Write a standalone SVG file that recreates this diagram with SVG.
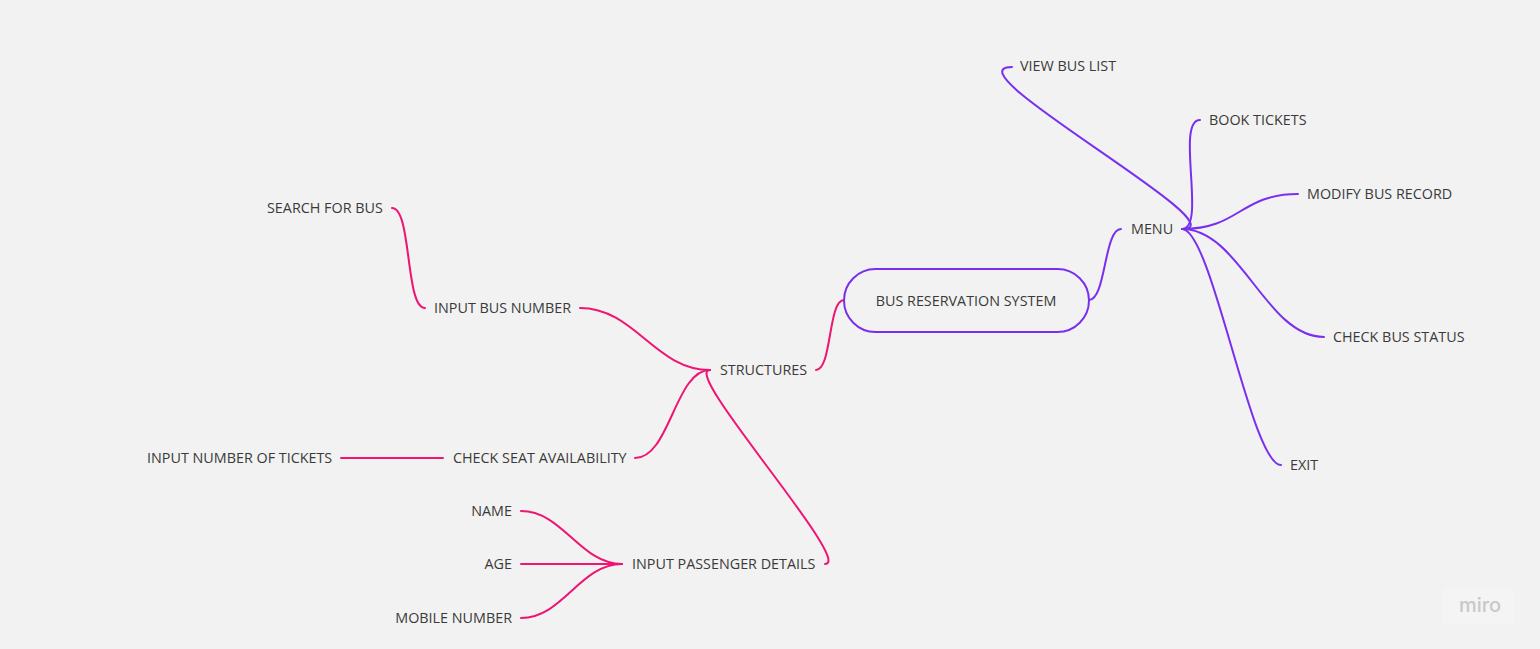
<svg xmlns="http://www.w3.org/2000/svg" width="1540" height="649" viewBox="0 0 1540 649">
<style>
.t{font-family:"Open Sans","Liberation Sans",sans-serif;font-size:14.35px;fill:#3a3a3a}
.r{text-anchor:end}
.p{fill:none;stroke:#7a2ff0;stroke-width:2;stroke-linecap:round}
.k{fill:none;stroke:#ee1573;stroke-width:2;stroke-linecap:round}
</style>
<rect width="1540" height="649" fill="#f2f2f2"/>
<g id="connectors">
<path class="p" d="M1089,300 C1106,300 1104,229 1121,229"/>
<path class="p" d="M1182,229 C1245,229 945,67 1012,67"/>
<path class="p" d="M1182,229 C1207,229 1175,120 1200,120"/>
<path class="p" d="M1182,229 C1240,229 1240,194 1298,194"/>
<path class="p" d="M1182,229 C1240,229 1266,337 1324,337"/>
<path class="p" d="M1182,229 C1212,229 1251,465 1281,465"/>
<path class="k" d="M844,300 C828,300 832,370 816,370"/>
<path class="k" d="M710,370 C655,370 635,308 580,308"/>
<path class="k" d="M425,308 C405,308 412,208 392,208"/>
<path class="k" d="M710,370 C675,370 670,458 635,458"/>
<path class="k" d="M341,458 L443,458"/>
<path class="k" d="M710,370 C680,370 855,564 825,564"/>
<path class="k" d="M622,564 C580,564 563,511 521,511"/>
<path class="k" d="M622,564 L521,564"/>
<path class="k" d="M622,564 C580,564 563,618 521,618"/>
</g>
<g id="root">
<rect x="844" y="269" width="245" height="63" rx="31.5" fill="none" stroke="#7a2ff0" stroke-width="2"/>
<text class="t" x="966" y="306" text-anchor="middle">BUS RESERVATION SYSTEM</text>
</g>
<g id="menu"><text class="t" x="1131" y="234">MENU</text></g>
<g id="view-bus-list"><text class="t" x="1020" y="71">VIEW BUS LIST</text></g>
<g id="book-tickets"><text class="t" x="1209" y="125">BOOK TICKETS</text></g>
<g id="modify-bus-record"><text class="t" x="1307" y="199">MODIFY BUS RECORD</text></g>
<g id="check-bus-status"><text class="t" x="1333" y="342">CHECK BUS STATUS</text></g>
<g id="exit"><text class="t" x="1290" y="470">EXIT</text></g>
<g id="structures"><text class="t" x="720" y="375">STRUCTURES</text></g>
<g id="input-bus-number"><text class="t" x="434" y="313">INPUT BUS NUMBER</text></g>
<g id="search-for-bus"><text class="t" x="267" y="213">SEARCH FOR BUS</text></g>
<g id="check-seat-availability"><text class="t" x="453" y="463">CHECK SEAT AVAILABILITY</text></g>
<g id="input-number-of-tickets"><text class="t" x="147" y="463">INPUT NUMBER OF TICKETS</text></g>
<g id="input-passenger-details"><text class="t" x="632" y="569">INPUT PASSENGER DETAILS</text></g>
<g id="name"><text class="t r" x="512" y="516">NAME</text></g>
<g id="age"><text class="t r" x="512" y="569">AGE</text></g>
<g id="mobile-number"><text class="t r" x="512" y="623">MOBILE NUMBER</text></g>
<g id="watermark">
<rect x="1443" y="589" width="72" height="36" rx="3" fill="#f4f4f4"/>
<text x="1480" y="612" text-anchor="middle" font-family="Inter,'Liberation Sans',sans-serif" font-size="20" font-weight="500" fill="#c8c8cc">miro</text>
</g>
</svg>
